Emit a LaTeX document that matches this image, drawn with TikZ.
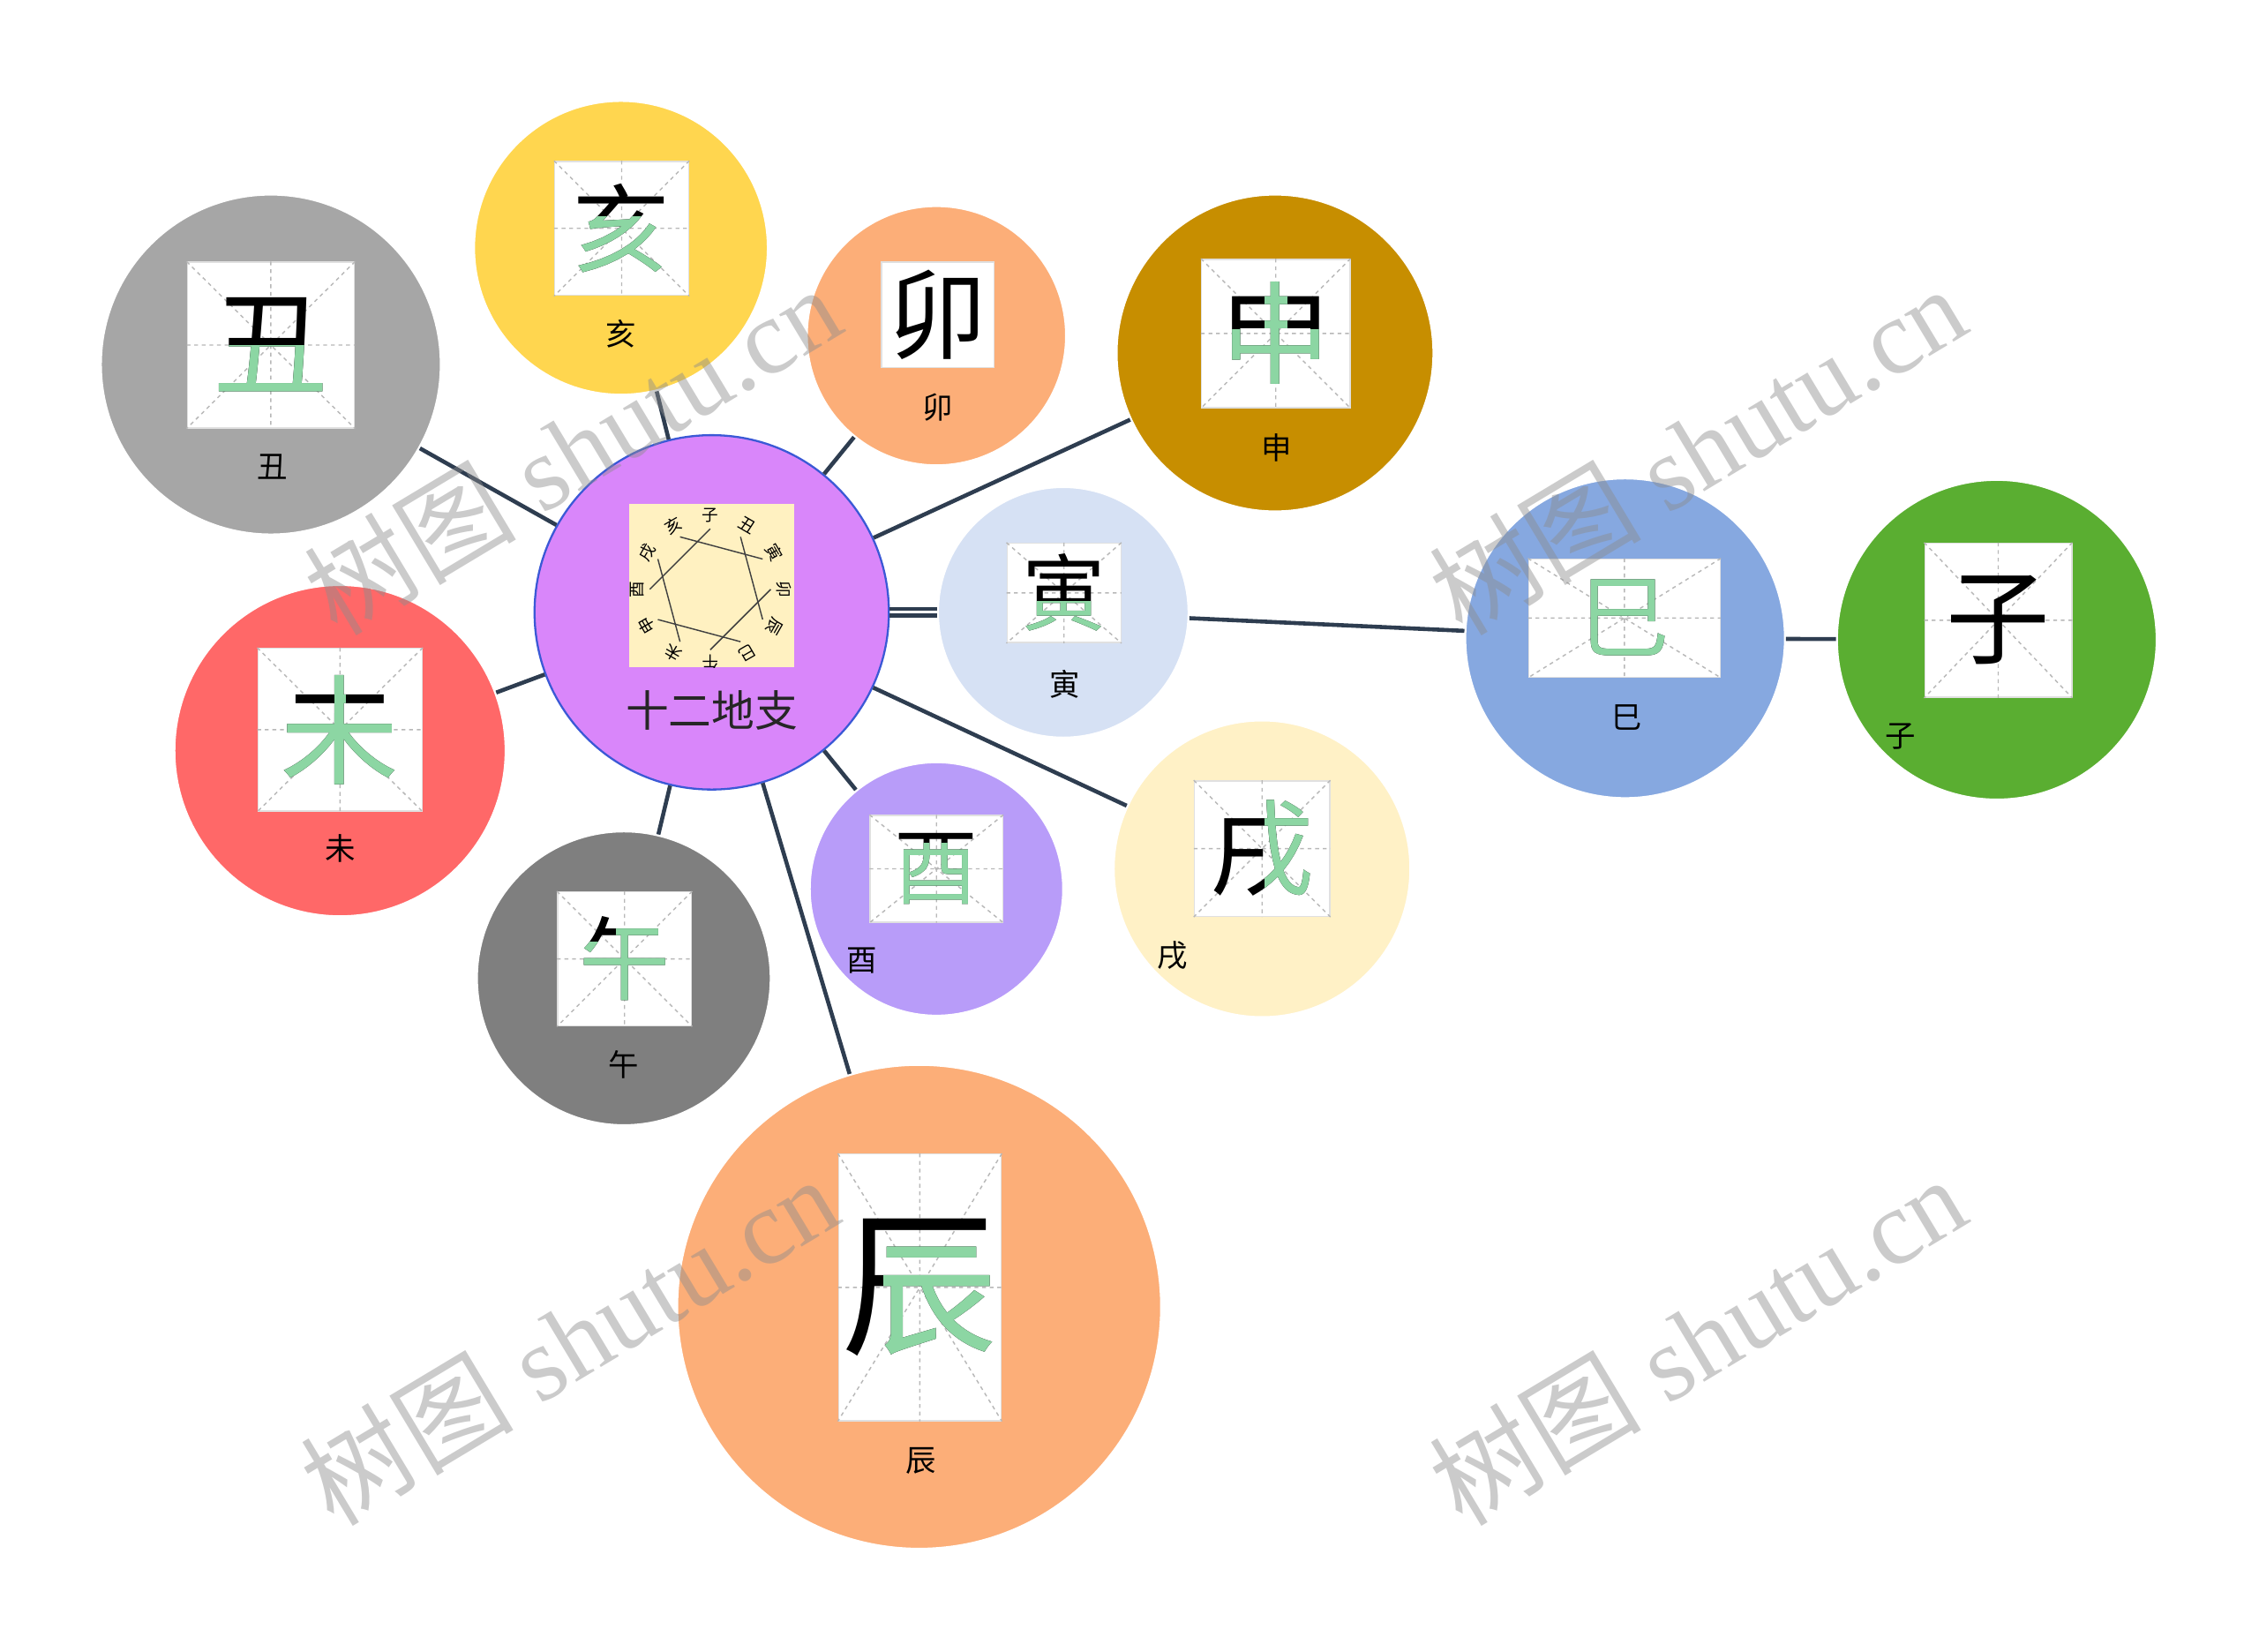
\documentclass[tikz,border=0pt]{standalone}
\usepackage{fontspec}
\setmainfont{Liberation Serif}
\newfontfamily\cjk{Noto Sans CJK SC}

\definecolor{linkcol}{HTML}{2E3D50}
\definecolor{zgreen}{HTML}{8CD6A3}
\definecolor{czhi}{HTML}{D986FA}
\definecolor{cedge}{HTML}{3B59D6}
\definecolor{cemb}{HTML}{FFF1C1}
\definecolor{cchou}{HTML}{A6A6A6}
\definecolor{chai}{HTML}{FFD64F}
\definecolor{cmao}{HTML}{FCAE78}
\definecolor{cshen}{HTML}{C78E00}
\definecolor{cyin}{HTML}{D6E1F4}
\definecolor{csi}{HTML}{86A8E0}
\definecolor{czi}{HTML}{5AAE31}
\definecolor{cwei}{HTML}{FF6868}
\definecolor{cwu}{HTML}{7F7F7F}
\definecolor{cyou}{HTML}{B89CF9}
\definecolor{cxu}{HTML}{FFF1C6}
\definecolor{cchen}{HTML}{FCAE78}

\tikzset{
  branch/.style={circle, draw=white, line width=0.8pt, inner sep=0pt},
  gridbox/.style={draw=black!12, fill=white, inner sep=0pt, line width=0.5pt},
  gridline/.style={draw=black!28, dash pattern=on 1.5pt off 1.5pt, line width=0.5pt},
  zhilabel/.style={font=\cjk\fontsize{12}{12}\selectfont},
  link/.style={draw=linkcol, line width=1.6pt},
  wmark/.style={text=black!45, opacity=0.45, rotate=31, font=\fontsize{42}{42}\selectfont},
}

% name, x, y, width, height, font size, glyph, green part, grid style
\newcommand{\glyphcell}[9]{%
  \node[gridbox, minimum width=#4*0.02cm, minimum height=#5*0.02cm] (#1) at (#2,#3) {};
  \draw[#9] (#1.north) -- (#1.south) (#1.west) -- (#1.east)
    (#1.north west) -- (#1.south east) (#1.north east) -- (#1.south west);
  \node[font=\cjk\fontsize{#6}{#6}\selectfont] at (#1) {#7};
  \begin{scope}[shift={(#2,#3)}]
    \clip #8;
    \node[font=\cjk\fontsize{#6}{#6}\selectfont, text=zgreen] at (0,0) {#7};
  \end{scope}}

\begin{document}
\begin{tikzpicture}[x=0.02cm, y=-0.02cm]
  \useasboundingbox (0,0) rectangle (1568,1146);

  \node[branch, fill=czhi, draw=cedge, minimum size=4.92cm] (zhi) at (494,425) {};
  \node[branch, fill=cchou, minimum size=4.72cm] (chou) at (188,253) {};
  \node[branch, fill=chai, minimum size=4.08cm] (hai) at (431,172) {};
  \node[branch, fill=cmao, minimum size=3.6cm] (mao) at (650,233) {};
  \node[branch, fill=cshen, minimum size=4.4cm] (shen) at (885,245) {};
  \node[branch, fill=cyin, minimum size=3.48cm] (yin) at (738,425) {};
  \node[branch, fill=csi, minimum size=4.44cm] (si) at (1128,443) {};
  \node[branch, fill=czi, minimum size=4.44cm] (zi) at (1386,444) {};
  \node[branch, fill=cwei, minimum size=4.6cm] (wei) at (236,521) {};
  \node[branch, fill=cwu, minimum size=4.08cm] (wu) at (433,679) {};
  \node[branch, fill=cyou, minimum size=3.52cm] (you) at (650,617) {};
  \node[branch, fill=cxu, minimum size=4.12cm] (xu) at (876,603) {};
  \node[branch, fill=cchen, minimum size=6.72cm] (chen) at (638,907) {};

  \draw[link] (zhi) -- (chou);
  \draw[link] (zhi) -- (hai);
  \draw[link] (zhi) -- (mao);
  \draw[link] (zhi) -- (shen);
  \draw[link, transform canvas={yshift=1.3pt}] (zhi) -- (yin);
  \draw[link, transform canvas={yshift=-1.3pt}] (zhi) -- (yin);
  \draw[link] (zhi) -- (xu);
  \draw[link] (zhi) -- (you);
  \draw[link] (zhi) -- (chen);
  \draw[link] (zhi) -- (wu);
  \draw[link] (zhi) -- (wei);
  \draw[link] (yin) -- (si);
  \draw[link] (si) -- (zi);

  % centre picture
  \node[fill=cemb, minimum width=2.28cm, minimum height=2.26cm, inner sep=0pt] (emb) at (494,406.5) {};
  \begin{scope}
    \clip (emb.south west) rectangle (emb.north east);
    \begin{scope}[shift={(493,409)}]
      \foreach \z [count=\i from 0] in {子,丑,寅,卯,辰,巳,午,未,申,酉,戌,亥}
        \node[font=\cjk\fontsize{6.5}{6.5}\selectfont, rotate=-30*\i, inner sep=0pt] (e\i) at ({30*\i-90}:51) {\z};
      \foreach \a/\b in {11/2,0/9,1/4,3/6,10/7,8/5}
        \draw[black!75, line width=0.5pt] ({30*\a-90}:42) -- ({30*\b-90}:42);
    \end{scope}
  \end{scope}
  \node[font=\cjk\fontsize{17}{17}\selectfont, text=black!85] (title) at (494,493) {十二地支};

  \glyphcell{choubox}{188}{239.5}{116}{115}{45}{丑}{(-70,0) rectangle (70,70)}{gridline}
  \glyphcell{haibox}{431.5}{158.5}{93}{93}{38}{亥}{(-60,-8) rectangle (60,60)}{gridline}
  \glyphcell{maobox}{651}{218.5}{78}{73}{39}{卯}{(0,0) rectangle (0,0)}{draw=none}
  \glyphcell{shenbox}{885.5}{231.5}{103}{103}{44}{申}{(-60,-3) rectangle (60,60) (-8,-60) rectangle (8,-3)}{gridline}
  \glyphcell{yinbox}{738.5}{411.5}{79}{69}{33}{寅}{(-50,6) rectangle (50,50)}{gridline}
  \glyphcell{sibox}{1127.5}{429}{133}{82}{36}{巳}{(-80,-60) rectangle (80,60)}{gridline}
  \glyphcell{zibox}{1387}{430.5}{102}{107}{41}{子}{(0,0) rectangle (0,0)}{gridline}
  \glyphcell{weibox}{236}{506.5}{114}{113}{47}{未}{(-70,-12) rectangle (70,70) (-4,-70) rectangle (4,-12)}{gridline}
  \glyphcell{wubox}{433.5}{665.5}{93}{93}{36}{午}{(-60,-12) rectangle (60,60) (-6,-60) rectangle (60,-12)}{gridline}
  \glyphcell{youbox}{650}{603}{92}{74}{33}{酉}{(-25,-18) rectangle (60,60)}{gridline}
  \glyphcell{xubox}{876}{589}{94}{94}{41}{戌}{(2,-60) rectangle (60,60)}{gridline}
  \glyphcell{chenbox}{638.5}{893.5}{113}{185}{62}{辰}{(-25,-35) rectangle (70,80)}{gridline}

  \node[zhilabel] (choulab) at (189,324) {丑};
  \node[zhilabel] (hailab) at (431,232) {亥};
  \node[zhilabel] (maolab) at (651,283) {卯};
  \node[zhilabel] (shenlab) at (886,311) {申};
  \node[zhilabel] (yinlab) at (739,475) {寅};
  \node[zhilabel] (silab) at (1129,498) {巳};
  \node[zhilabel] (zilab) at (1319,511) {子};
  \node[zhilabel] (weilab) at (236,589) {未};
  \node[zhilabel] (wulab) at (433,739) {午};
  \node[zhilabel] (youlab) at (598,667) {酉};
  \node[zhilabel] (xulab) at (814,663) {戌};
  \node[zhilabel] (chenlab) at (639,1014) {辰};

  \node[wmark] (wm1) at (397,312) {{\cjk 树图} shutu.cn};
  \node[wmark] (wm2) at (1178,312) {{\cjk 树图} shutu.cn};
  \node[wmark] (wm3) at (395,930) {{\cjk 树图} shutu.cn};
  \node[wmark] (wm4) at (1178,930) {{\cjk 树图} shutu.cn};
\end{tikzpicture}
\end{document}
